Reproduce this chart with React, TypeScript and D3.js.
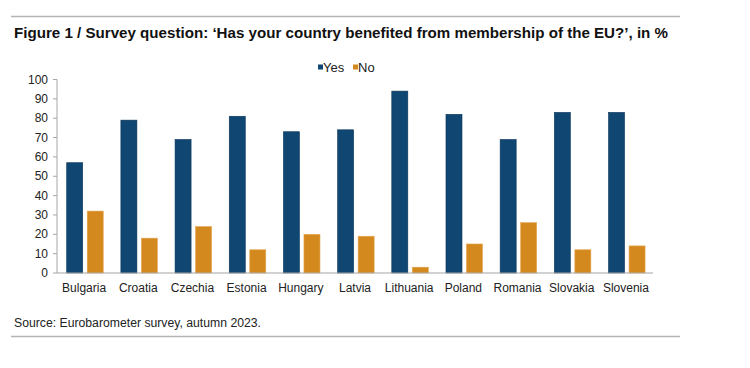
import React from "react";
import * as d3 from "d3";

const countries = ["Bulgaria", "Croatia", "Czechia", "Estonia", "Hungary", "Latvia", "Lithuania", "Poland", "Romania", "Slovakia", "Slovenia"];
const yesValues = [57, 79, 69, 81, 73, 74, 94, 82, 69, 83, 83];
const noValues = [32, 18, 24, 12, 20, 19, 3, 15, 26, 12, 14];
const seriesNames = ["Yes", "No"];
const seriesColors = ["#0f4672", "#d4891f"];
const yTicks = [0, 10, 20, 30, 40, 50, 60, 70, 80, 90, 100];

const W = 750;
const H = 368;
const AXIS_LEFT = 57;
const AXIS_RIGHT = 653;
const Y_ZERO = 273;
const Y_TOP = 79.5;
const FONT = "'Liberation Sans', Arial, sans-serif";

export default function App() {
  const x = d3.scaleBand().domain(countries).range([AXIS_LEFT, AXIS_RIGHT]).padding(0);
  const inner = d3
    .scaleBand()
    .domain(seriesNames)
    .range([0, x.bandwidth()])
    .paddingInner(0.22)
    .paddingOuter(0.43)
    .align(0.55);
  const y = d3.scaleLinear().domain([0, 100]).range([Y_ZERO, Y_TOP]);

  const rows = countries.map((c, i) => ({ country: c, values: [yesValues[i], noValues[i]] }));

  return (
    <svg width={W} height={H} style={{ position: "absolute", left: 0, top: 0, background: "#fff" }}>
      {/* frame rules */}
      <line x1={11} x2={680} y1={16.5} y2={16.5} stroke="#b4b4b4" strokeWidth={1.5} />
      <line x1={11} x2={680} y1={336.5} y2={336.5} stroke="#b4b4b4" strokeWidth={1.5} />

      <text x={14} y={38} fontFamily={FONT} fontWeight="bold" fontSize={15} fill="#111"
        textLength={654} lengthAdjust="spacingAndGlyphs">
        Figure 1 / Survey question: ‘Has your country benefited from membership of the EU?’, in %
      </text>

      {/* legend */}
      <g fontFamily={FONT} fontSize={13} fill="#222">
        {seriesNames.map((s, i) => {
          const lx = 318 + i * 35;
          return (
            <g key={s}>
              <rect x={lx} y={64.5} width={5} height={5} fill={seriesColors[i]} />
              <text x={lx + 5} y={71.5}>{s}</text>
            </g>
          );
        })}
      </g>

      {/* y axis */}
      <g fontFamily={FONT} fontSize={12} fill="#222">
        {yTicks.map((t) => (
          <g key={t}>
            <line x1={AXIS_LEFT - 4} x2={AXIS_LEFT} y1={y(t)} y2={y(t)} stroke="#a6a6a6" />
            <text x={48} y={y(t) + 4} textAnchor="end">{t}</text>
          </g>
        ))}
      </g>
      <line x1={AXIS_LEFT} x2={AXIS_LEFT} y1={Y_TOP} y2={Y_ZERO} stroke="#a6a6a6" />

      {/* bars */}
      {rows.map((r) => (
        <g key={r.country} transform={`translate(${x(r.country)},0)`}>
          {r.values.map((v, i) => (
            <rect
              key={i}
              x={inner(seriesNames[i])}
              y={y(v)}
              width={inner.bandwidth()}
              height={Y_ZERO - y(v)}
              fill={seriesColors[i]}
              stroke={i === 0 ? "#0a3559" : "#e6a650"}
              strokeWidth={0.6}
            />
          ))}
          <text
            x={x.bandwidth() / 2}
            y={292}
            textAnchor="middle"
            fontFamily={FONT}
            fontSize={12}
            fill="#222"
          >
            {r.country}
          </text>
        </g>
      ))}

      {/* x axis */}
      <line x1={AXIS_LEFT} x2={AXIS_RIGHT} y1={Y_ZERO} y2={Y_ZERO} stroke="#a6a6a6" strokeWidth={1.2} />

      <text x={14} y={327} fontFamily={FONT} fontSize={12.5} fill="#222"
        textLength={247} lengthAdjust="spacingAndGlyphs">
        Source: Eurobarometer survey, autumn 2023.
      </text>
    </svg>
  );
}
